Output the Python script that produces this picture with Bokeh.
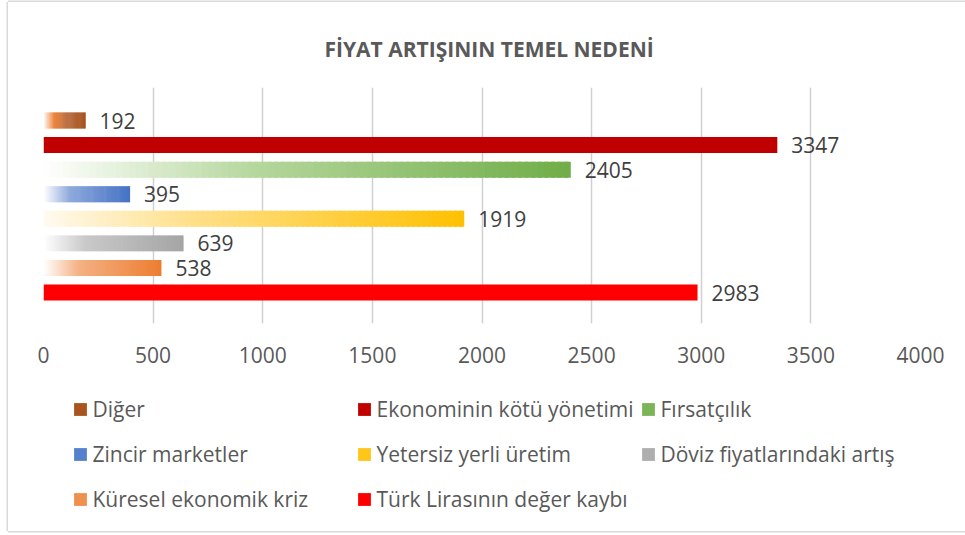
from bokeh.plotting import figure
from bokeh.layouts import column
from bokeh.models import Range1d, FixedTicker, Legend, LegendItem, ColumnDataSource, Title
from bokeh.core.properties import value
from bokeh.embed import file_html
from bokeh.resources import INLINE

title_text = "FİYAT ARTIŞININ TEMEL NEDENİ"
categories = ["Diğer", "Ekonominin kötü yönetimi", "Fırsatçılık", "Zincir marketler",
              "Yetersiz yerli üretim", "Döviz fiyatlarındaki artış", "Küresel ekonomik kriz",
              "Türk Lirasının değer kaybı"]
values = [192, 3347, 2405, 395, 1919, 639, 538, 2983]
x_ticks = [0, 500, 1000, 1500, 2000, 2500, 3000, 3500, 4000]

# gradient stops (position, colour) per series; a single stop = solid fill
stops = [
    [(0.0, "#ffffff"), (0.25, "#ED7D31"), (0.55, "#b8693a"), (1.0, "#9E480E")],
    [(0.0, "#C00000")],
    [(0.0, "#ffffff"), (0.4, "#b5d79d"), (1.0, "#70AD47")],
    [(0.0, "#ffffff"), (0.3, "#8faadc"), (1.0, "#4472C4")],
    [(0.0, "#fffaf0"), (0.35, "#ffe08a"), (1.0, "#FFC000")],
    [(0.0, "#ffffff"), (0.3, "#c9c9c9"), (1.0, "#A5A5A5")],
    [(0.0, "#ffffff"), (0.3, "#f4b183"), (1.0, "#ED7D31")],
    [(0.0, "#FF0000")],
]
legend_colors = ["#a8541c", "#C00000", "#7cb458", "#5580cc", "#ffc61a", "#aeaeae", "#f0904f", "#FF0000"]

FONT = "Open Sans"
TXT = "#595959"


def hex2rgb(h):
    h = h.lstrip("#")
    return tuple(int(h[i:i + 2], 16) for i in (0, 2, 4))


def interp(st, t):
    if len(st) == 1:
        return st[0][1]
    for (p0, c0), (p1, c1) in zip(st[:-1], st[1:]):
        if t <= p1:
            f = (t - p0) / (p1 - p0) if p1 > p0 else 0
            a, b = hex2rgb(c0), hex2rgb(c1)
            return "#%02x%02x%02x" % tuple(round(a[k] + (b[k] - a[k]) * f) for k in range(3))
    return st[-1][1]


n = len(categories)
pitch_top = 1.343
pitch_bot = 1.26

p = figure(width=957, height=378, output_backend="svg", toolbar_location=None,
           x_range=Range1d(0, 4000), y_range=Range1d(n - 1 + pitch_bot, -pitch_top),
           y_axis_location=None, min_border_left=35, min_border_right=45,
           min_border_top=85, min_border_bottom=57, outline_line_color=None,
           background_fill_color="white", border_fill_color="white")

t = Title(text=title_text, align="left", text_font=FONT, text_font_size="21px",
          text_font_style="bold", text_color=TXT, standoff=50, offset=281)
p.add_layout(t, "above")

p.xaxis.ticker = FixedTicker(ticks=x_ticks)
p.xaxis.axis_line_color = None
p.xaxis.major_tick_line_color = None
p.xaxis.major_tick_out = 0
p.xaxis.major_tick_in = 0
p.xaxis.minor_tick_line_color = None
p.xaxis.major_label_text_font = FONT
p.xaxis.major_label_text_font_size = "21px"
p.xaxis.major_label_text_color = TXT
p.xaxis.major_label_standoff = 23

p.xgrid.ticker = FixedTicker(ticks=x_ticks)
p.xgrid.grid_line_color = "#d0d0d0"
p.xgrid.grid_line_width = 1.5
p.ygrid.grid_line_color = None

H = 0.65
NSEG = 80
for i, (cat, v, st) in enumerate(zip(categories, values, stops)):
    if len(st) == 1:
        src = ColumnDataSource(dict(y=[i], left=[0], right=[v], c=[st[0][1]]))
    else:
        ys, ls, rs, cs = [], [], [], []
        for k in range(NSEG):
            ys.append(i)
            ls.append(v * k / NSEG)
            rs.append(v * min(k + 1.6, NSEG) / NSEG)
            cs.append(interp(st, (k + 0.5) / NSEG))
        src = ColumnDataSource(dict(y=ys, left=ls, right=rs, c=cs))
    p.hbar(y="y", left="left", right="right", height=H, fill_color="c",
           line_color=None, source=src)

lab = ColumnDataSource(dict(x=values, y=list(range(n)), t=[str(v) for v in values]))
p.text(x="x", y="y", text="t", source=lab, x_offset=14, text_baseline="middle",
       text_font=value(FONT), text_font_size="21px", text_color="#404040")

# legend in a second, axis-less figure right below the chart
pl = figure(width=957, height=151, output_backend="svg", toolbar_location=None,
            x_range=Range1d(0, 1), y_range=Range1d(0, 1),
            x_axis_location=None, y_axis_location=None, min_border=0,
            outline_line_color=None, background_fill_color="white",
            border_fill_color="white")
pl.xgrid.grid_line_color = None
pl.ygrid.grid_line_color = None

leg_items = []
for i, cat in enumerate(categories):
    r = pl.quad(left=[-3], right=[-2], bottom=[-3], top=[-2],
                fill_color=legend_colors[i], line_color=None)
    leg_items.append(LegendItem(label=cat, renderers=[r]))

legend = Legend(items=leg_items, orientation="horizontal", ncols=3,
                location=(28.5, 9.5), glyph_width=16, glyph_height=16,
                label_standoff=5, label_width=263, label_height=45, spacing=0,
                padding=0, margin=0, border_line_color=None, background_fill_alpha=0,
                label_text_font=FONT, label_text_font_size="21px", label_text_color=TXT)
pl.add_layout(legend, "center")

layout = column(p, pl, spacing=0)
layout.styles = {"margin-left": "8px", "margin-top": "2px",
                 "box-shadow": "-1.5px 0 0 0 #d9d9d9, 0 -1.5px 0 0 #d9d9d9, 0 1.5px 0 0 #d9d9d9"}

open("out.html", "w").write(file_html(layout, INLINE))
